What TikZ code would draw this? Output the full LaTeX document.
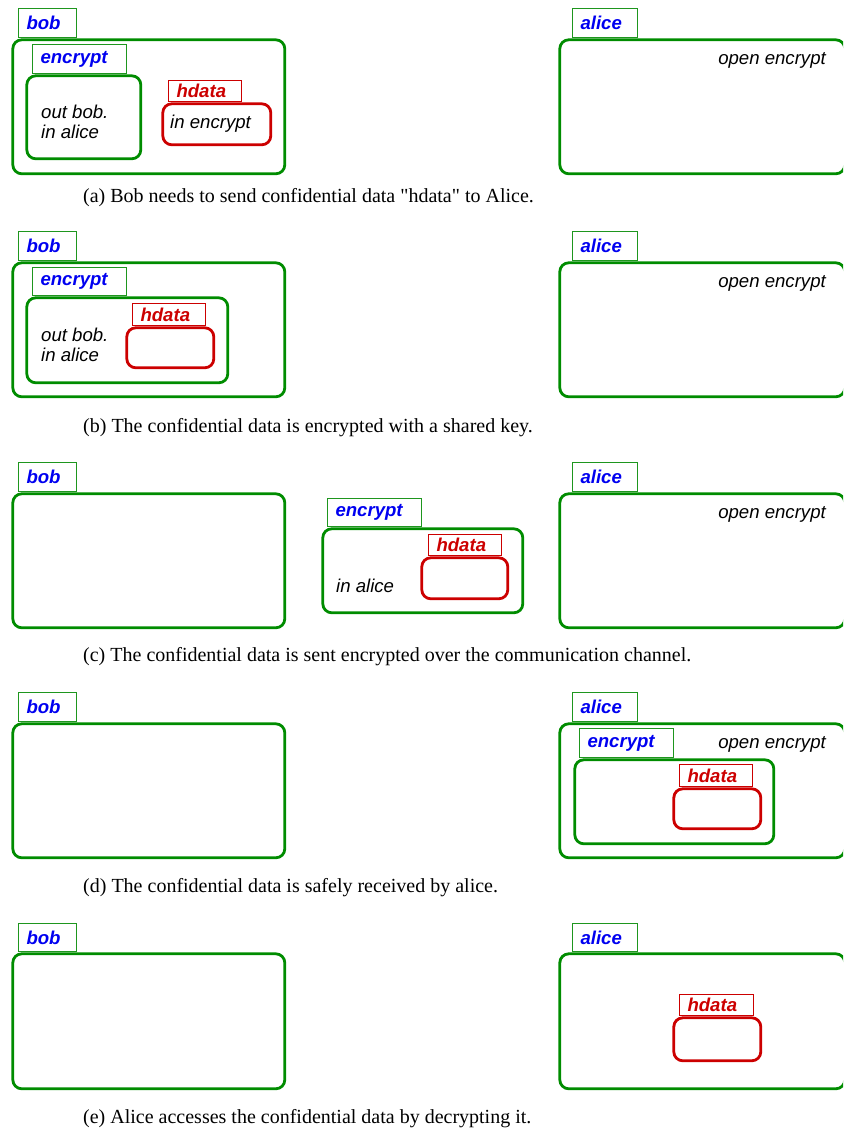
\documentclass[tikz,border=0pt]{standalone}
\usepackage{fontspec}
\setmainfont{Liberation Serif}
\setsansfont{Liberation Sans}
\newfontfamily\qfont{Liberation Serif}[Ligatures=ResetAll]
\newcommand{\sq}{{\qfont"}}
\definecolor{boxgreen}{RGB}{0,140,0}
\definecolor{tabgreen}{RGB}{30,150,30}
\definecolor{boxred}{RGB}{204,0,0}
\definecolor{lblblue}{RGB}{0,0,240}
\tikzset{
 cont/.style={draw=boxgreen, line width=2.8pt, rounded corners=9pt, anchor=north west, inner sep=0pt, xshift=1.4pt, yshift=-1.4pt},
 datbox/.style={cont, draw=boxred},
 tabbox/.style={draw=tabgreen, line width=1pt, anchor=north west, inner ysep=0pt, inner xsep=8pt,
   font=\sffamily\bfseries\itshape\fontsize{18.6pt}{22pt}\selectfont, text=lblblue, align=left},
 dtab/.style={tabbox, draw=boxred, text=boxred},
 note/.style={font=\sffamily\itshape\fontsize{18.6pt}{20pt}\selectfont, text=black, inner sep=0pt, align=left},
 captext/.style={font=\fontsize{20pt}{24pt}\selectfont, inner sep=0pt, anchor=west}
}
\begin{document}
\begin{tikzpicture}[x=1pt,y=-1pt]
\useasboundingbox (0,0) rectangle (843,1131);
\clip (0,0) rectangle (843,1131);
% ---------------- panel (a)
\node[tabbox, minimum width=58pt, minimum height=29pt, text width=42pt] (bobTabA) at (18,8) {bob};
\node[cont, minimum width=272pt, minimum height=134pt] (bobA) at (10,37) {};
\node[tabbox, minimum width=94pt, minimum height=29pt, text width=78pt] (encTabA) at (32,44) {encrypt};
\node[cont, minimum width=114pt, minimum height=83pt] (encA) at (24,73) {};
\node[note, anchor=west] (encTxtA) at (41,122) {out bob.\\in alice};
\node[dtab, minimum width=73pt, minimum height=21pt, text width=57pt] (hTabA) at (168,80) {hdata};
\node[datbox, minimum width=108pt, minimum height=41pt] (hA) at (160,101) {};
\node[note, anchor=west] (hTxtA) at (170,124) {in encrypt};
\node[tabbox, minimum width=65pt, minimum height=29pt, text width=49pt] (aliceTabA) at (572,8) {alice};
\node[cont, minimum width=285pt, minimum height=134pt] (aliceA) at (557,37) {};
\node[note, anchor=east] (openA) at (826,60) {open encrypt};
\node[captext] (capA) at (83,198) {(a) Bob needs to send confidential data \sq hdata\sq{} to Alice.};
% ---------------- panel (b)
\node[tabbox, minimum width=58pt, minimum height=29pt, text width=42pt] (bobTabB) at (18,231) {bob};
\node[cont, minimum width=272pt, minimum height=134pt] (bobB) at (10,260) {};
\node[tabbox, minimum width=94pt, minimum height=28pt, text width=78pt] (encTabB) at (32,267) {encrypt};
\node[cont, minimum width=201pt, minimum height=85pt] (encB) at (24,295) {};
\node[note, anchor=west] (encTxtB) at (41,345) {out bob.\\in alice};
\node[dtab, minimum width=73pt, minimum height=22pt, text width=57pt] (hTabB) at (132,303) {hdata};
\node[datbox, minimum width=87pt, minimum height=40pt] (hB) at (124,325) {};
\node[tabbox, minimum width=65pt, minimum height=29pt, text width=49pt] (aliceTabB) at (572,231) {alice};
\node[cont, minimum width=285pt, minimum height=134pt] (aliceB) at (557,260) {};
\node[note, anchor=east] (openB) at (826,283) {open encrypt};
\node[captext] (capB) at (83,428) {(b) The confidential data is encrypted with a shared key.};
% ---------------- panel (c)
\node[tabbox, minimum width=58pt, minimum height=29pt, text width=42pt] (bobTabC) at (18,462) {bob};
\node[cont, minimum width=272pt, minimum height=134pt] (bobC) at (10,491) {};
\node[tabbox, minimum width=94pt, minimum height=28pt, text width=78pt] (encTabC) at (327,498) {encrypt};
\node[cont, minimum width=200pt, minimum height=84pt] (encC) at (320,526) {};
\node[note, anchor=west] (encTxtC) at (336,586) {in alice};
\node[dtab, minimum width=73pt, minimum height=21pt, text width=57pt] (hTabC) at (428,534) {hdata};
\node[datbox, minimum width=86pt, minimum height=41pt] (hC) at (419,555) {};
\node[tabbox, minimum width=65pt, minimum height=29pt, text width=49pt] (aliceTabC) at (572,462) {alice};
\node[cont, minimum width=285pt, minimum height=134pt] (aliceC) at (557,491) {};
\node[note, anchor=east] (openC) at (826,514) {open encrypt};
\node[captext] (capC) at (83,657) {(c) The confidential data is sent encrypted over the communication channel.};
% ---------------- panel (d)
\node[tabbox, minimum width=58pt, minimum height=29pt, text width=42pt] (bobTabD) at (18,692) {bob};
\node[cont, minimum width=272pt, minimum height=134pt] (bobD) at (10,721) {};
\node[tabbox, minimum width=65pt, minimum height=29pt, text width=49pt] (aliceTabD) at (572,692) {alice};
\node[cont, minimum width=285pt, minimum height=134pt] (aliceD) at (557,721) {};
\node[note, anchor=east] (openD) at (826,744) {open encrypt};
\node[tabbox, minimum width=94pt, minimum height=29pt, text width=78pt] (encTabD) at (579,728) {encrypt};
\node[cont, minimum width=199pt, minimum height=84pt] (encD) at (572,757) {};
\node[dtab, minimum width=73pt, minimum height=22pt, text width=57pt] (hTabD) at (679,764) {hdata};
\node[datbox, minimum width=87pt, minimum height=40pt] (hD) at (671,786) {};
\node[captext] (capD) at (83,888) {(d) The confidential data is safely received by alice.};
% ---------------- panel (e)
\node[tabbox, minimum width=58pt, minimum height=28pt, text width=42pt] (bobTabE) at (18,923) {bob};
\node[cont, minimum width=272pt, minimum height=135pt] (bobE) at (10,951) {};
\node[tabbox, minimum width=65pt, minimum height=28pt, text width=49pt] (aliceTabE) at (572,923) {alice};
\node[cont, minimum width=285pt, minimum height=135pt] (aliceE) at (557,951) {};
\node[dtab, minimum width=74pt, minimum height=21pt, text width=58pt] (hTabE) at (679,994) {hdata};
\node[datbox, minimum width=87pt, minimum height=43pt] (hE) at (671,1015) {};
\node[captext] (capE) at (83,1119) {(e) Alice accesses the confidential data by decrypting it.};
\end{tikzpicture}
\end{document}
